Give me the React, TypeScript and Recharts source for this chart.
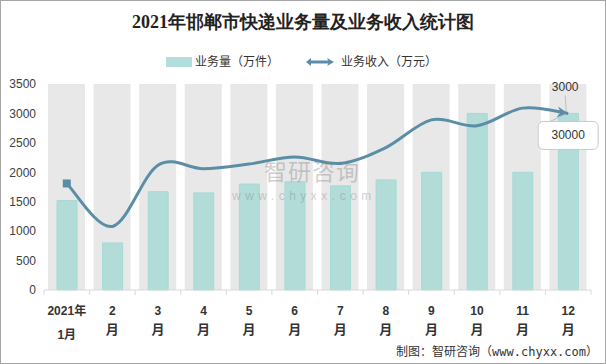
import React from 'react';
import { ComposedChart, Bar, Line, XAxis, YAxis, CartesianGrid } from 'recharts';

const months = ['2021年|1月', '2|月', '3|月', '4|月', '5|月', '6|月', '7|月', '8|月', '9|月', '10|月', '11|月', '12|月'];
const volume = [1520, 800, 1670, 1650, 1800, 1840, 1770, 1870, 2000, 3000, 2000, 3000];
const revenue = [1810, 1080, 2120, 2060, 2140, 2260, 2150, 2420, 2890, 2790, 3090, 3000];
const yTicks = [0, 500, 1000, 1500, 2000, 2500, 3000, 3500];

const titleText = '2021年邯郸市快递业务量及业务收入统计图';
const legendVolume = '业务量（万件）';
const legendRevenue = '业务收入（万元）';
const calloutTop = '3000';
const calloutBox = '30000';
const sourceText = '制图：智研咨询（www.chyxx.com）';
const watermarkCn = '智研咨询';
const watermarkUrl = 'www.chyxx.com';

const data = months.map((m, i) => ({ month: m, volume: volume[i], revenue: revenue[i] }));

const W = 606;
const H = 364;
const MARGIN = { top: 84, right: 15, bottom: 0, left: 0 };
const Y_W = 44;
const X_H = 74;
const BAND = (W - MARGIN.right - Y_W) / months.length;

const LINE_COLOR = '#5a8ea6';
const TEXT_COLOR = '#404040';

// Catmull-Rom style smoothing (like office "smoothed line")
const smoothCurve: any = (context: any) => {
  let pts: [number, number][] = [];
  return {
    areaStart() {},
    areaEnd() {},
    lineStart() {
      pts = [];
    },
    lineEnd() {
      if (!pts.length) return;
      context.moveTo(pts[0][0], pts[0][1]);
      const k = 1 / 6;
      for (let i = 0; i < pts.length - 1; i++) {
        const p0 = pts[i - 1] || pts[i];
        const p1 = pts[i];
        const p2 = pts[i + 1];
        const p3 = pts[i + 2] || pts[i + 1];
        context.bezierCurveTo(
          p1[0] + (p2[0] - p0[0]) * k,
          p1[1] + (p2[1] - p0[1]) * k,
          p2[0] - (p3[0] - p1[0]) * k,
          p2[1] - (p3[1] - p1[1]) * k,
          p2[0],
          p2[1]
        );
      }
    },
    point(x: number, y: number) {
      pts.push([x, y]);
    },
  };
};

const XTick = (props: any) => {
  const { x, y, payload, index } = props;
  const [l1, l2] = String(payload.value).split('|');
  const first = index === 0;
  const last = index === months.length - 1;
  return (
    <g>
      <line x1={x - BAND / 2} x2={x - BAND / 2} y1={y} y2={y + 5} stroke="#d9d9d9" />
      {last && <line x1={x + BAND / 2} x2={x + BAND / 2} y1={y} y2={y + 5} stroke="#d9d9d9" />}
      <text x={x} y={y + 25} textAnchor="middle" fontSize={12} fontWeight="bold" fill="#333">
        {l1}
      </text>
      <text x={x} y={y + (first ? 49 : 44)} textAnchor="middle" fontSize={first ? 12 : 13} fontWeight="bold" fill="#333">
        {l2}
      </text>
    </g>
  );
};

const renderDot = (props: any) => {
  const { cx, cy, index } = props;
  if (index === 0) {
    return <rect key={`d${index}`} x={cx - 4} y={cy - 4} width={8} height={8} fill={LINE_COLOR} />;
  }
  if (index === months.length - 1) {
    return (
      <polygon
        key={`d${index}`}
        points="0,0 -11,-5.5 -7.5,0 -11,5.5"
        fill={LINE_COLOR}
        transform={`translate(${cx},${cy}) rotate(8)`}
      />
    );
  }
  return <g key={`d${index}`} />;
};

const renderCallout = (props: any) => {
  const { x, y, index } = props;
  if (index !== months.length - 1) return <g key={`l${index}`} />;
  return (
    <g key={`l${index}`}>
      <text x={x - 3} y={y - 22} textAnchor="middle" fontSize={12} fill="#333">
        {calloutTop}
      </text>
      <line x1={x - 3} y1={y - 18} x2={x - 2} y2={y - 2} stroke="#bfbfbf" />
      <line x1={x - 18} y1={y + 8} x2={x - 3} y2={y + 1} stroke="#bfbfbf" />
      <rect x={x - 30} y={y + 8} width={60} height={28} rx={5} fill="#fff" stroke="#c8c8c8" />
      <text x={x} y={y + 26} textAnchor="middle" fontSize={12} fill="#333">
        {calloutBox}
      </text>
    </g>
  );
};

export default function App() {
  return (
    <div
      style={{
        position: 'absolute',
        left: 0,
        top: 0,
        width: W,
        height: H,
        background: '#fff',
        fontFamily: "'Liberation Sans', 'Noto Sans CJK SC', sans-serif",
        overflow: 'hidden',
      }}
    >
      <div
        style={{
          position: 'absolute',
          top: 9,
          left: 0,
          width: W,
          textAlign: 'center',
          fontFamily: "serif",
          fontWeight: 'bold',
          fontSize: 18,
          color: '#222',
          lineHeight: '26px',
        }}
      >
        {titleText}
      </div>
      <div
        style={{
          position: 'absolute',
          top: 53,
          left: 166,
          display: 'flex',
          alignItems: 'center',
          fontSize: 12,
          color: '#333',
          lineHeight: '18px',
        }}
      >
        <span style={{ display: 'inline-block', width: 26, height: 10, background: '#b2dfdb', marginRight: 3 }} />
        <span>{legendVolume}</span>
        <svg width={30} height={12} style={{ marginLeft: 27, marginRight: 5 }}>
          <line x1={3} y1={6} x2={24} y2={6} stroke={LINE_COLOR} strokeWidth={3} />
          <polygon points="0,6 5,2 5,10" fill={LINE_COLOR} />
          <polygon points="28,6 21,2 23,6 21,10" fill={LINE_COLOR} />
        </svg>
        <span>{legendRevenue}</span>
      </div>

      <div style={{ position: 'absolute', left: 0, top: 0 }}>
        <ComposedChart width={W} height={H} data={data} margin={MARGIN}>
          <XAxis xAxisId="bg" dataKey="month" hide />
          <XAxis
            dataKey="month"
            height={X_H}
            interval={0}
            axisLine={{ stroke: '#d9d9d9' }}
            tickLine={false}
            tickSize={0}
            tickMargin={0}
            tick={<XTick />}
          />
          <YAxis
            width={Y_W}
            domain={[0, 3500]}
            ticks={yTicks}
            interval={0}
            axisLine={false}
            tickLine={false}
            tickSize={0}
            tickMargin={8}
            tick={{ fontSize: 12, fill: TEXT_COLOR }}
          />
          <Bar
            xAxisId="bg"
            dataKey="volume"
            barSize={37}
            fill="transparent"
            background={{ fill: '#e8e8e8' }}
            isAnimationActive={false}
          />
          <CartesianGrid vertical={false} stroke="#ffffff" strokeWidth={1.5} />
          <Bar
            dataKey="volume"
            barSize={20}
            fill="#9fd8d2"
            fillOpacity={0.75}
            stroke="#a6dad4"
            isAnimationActive={false}
          />
          <Line
            dataKey="revenue"
            type={smoothCurve}
            stroke={LINE_COLOR}
            strokeWidth={3}
            dot={renderDot}
            activeDot={false}
            label={renderCallout}
            isAnimationActive={false}
          />
        </ComposedChart>
      </div>

      <div
        style={{
          position: 'absolute',
          left: 264,
          top: 158,
          fontSize: 23,
          letterSpacing: 1,
          color: 'rgba(120,120,120,0.35)',
          pointerEvents: 'none',
          lineHeight: '28px',
        }}
      >
        {watermarkCn}
      </div>
      <div
        style={{
          position: 'absolute',
          left: 232,
          top: 188,
          fontSize: 12,
          letterSpacing: 4.5,
          color: 'rgba(120,120,120,0.35)',
          pointerEvents: 'none',
          lineHeight: '16px',
        }}
      >
        {watermarkUrl}
      </div>

      <div
        style={{
          position: 'absolute',
          right: 8,
          top: 343,
          fontSize: 12,
          color: '#333',
          lineHeight: '18px',
          whiteSpace: 'nowrap',
          fontFamily: "'DejaVu Sans Mono', 'Noto Sans CJK SC', monospace",
        }}
      >
        {sourceText}
      </div>
      <div
        style={{
          position: 'absolute',
          left: 0,
          top: 0,
          width: W,
          height: H,
          boxSizing: 'border-box',
          border: '1px solid #a6a6a6',
          pointerEvents: 'none',
        }}
      />
    </div>
  );
}
